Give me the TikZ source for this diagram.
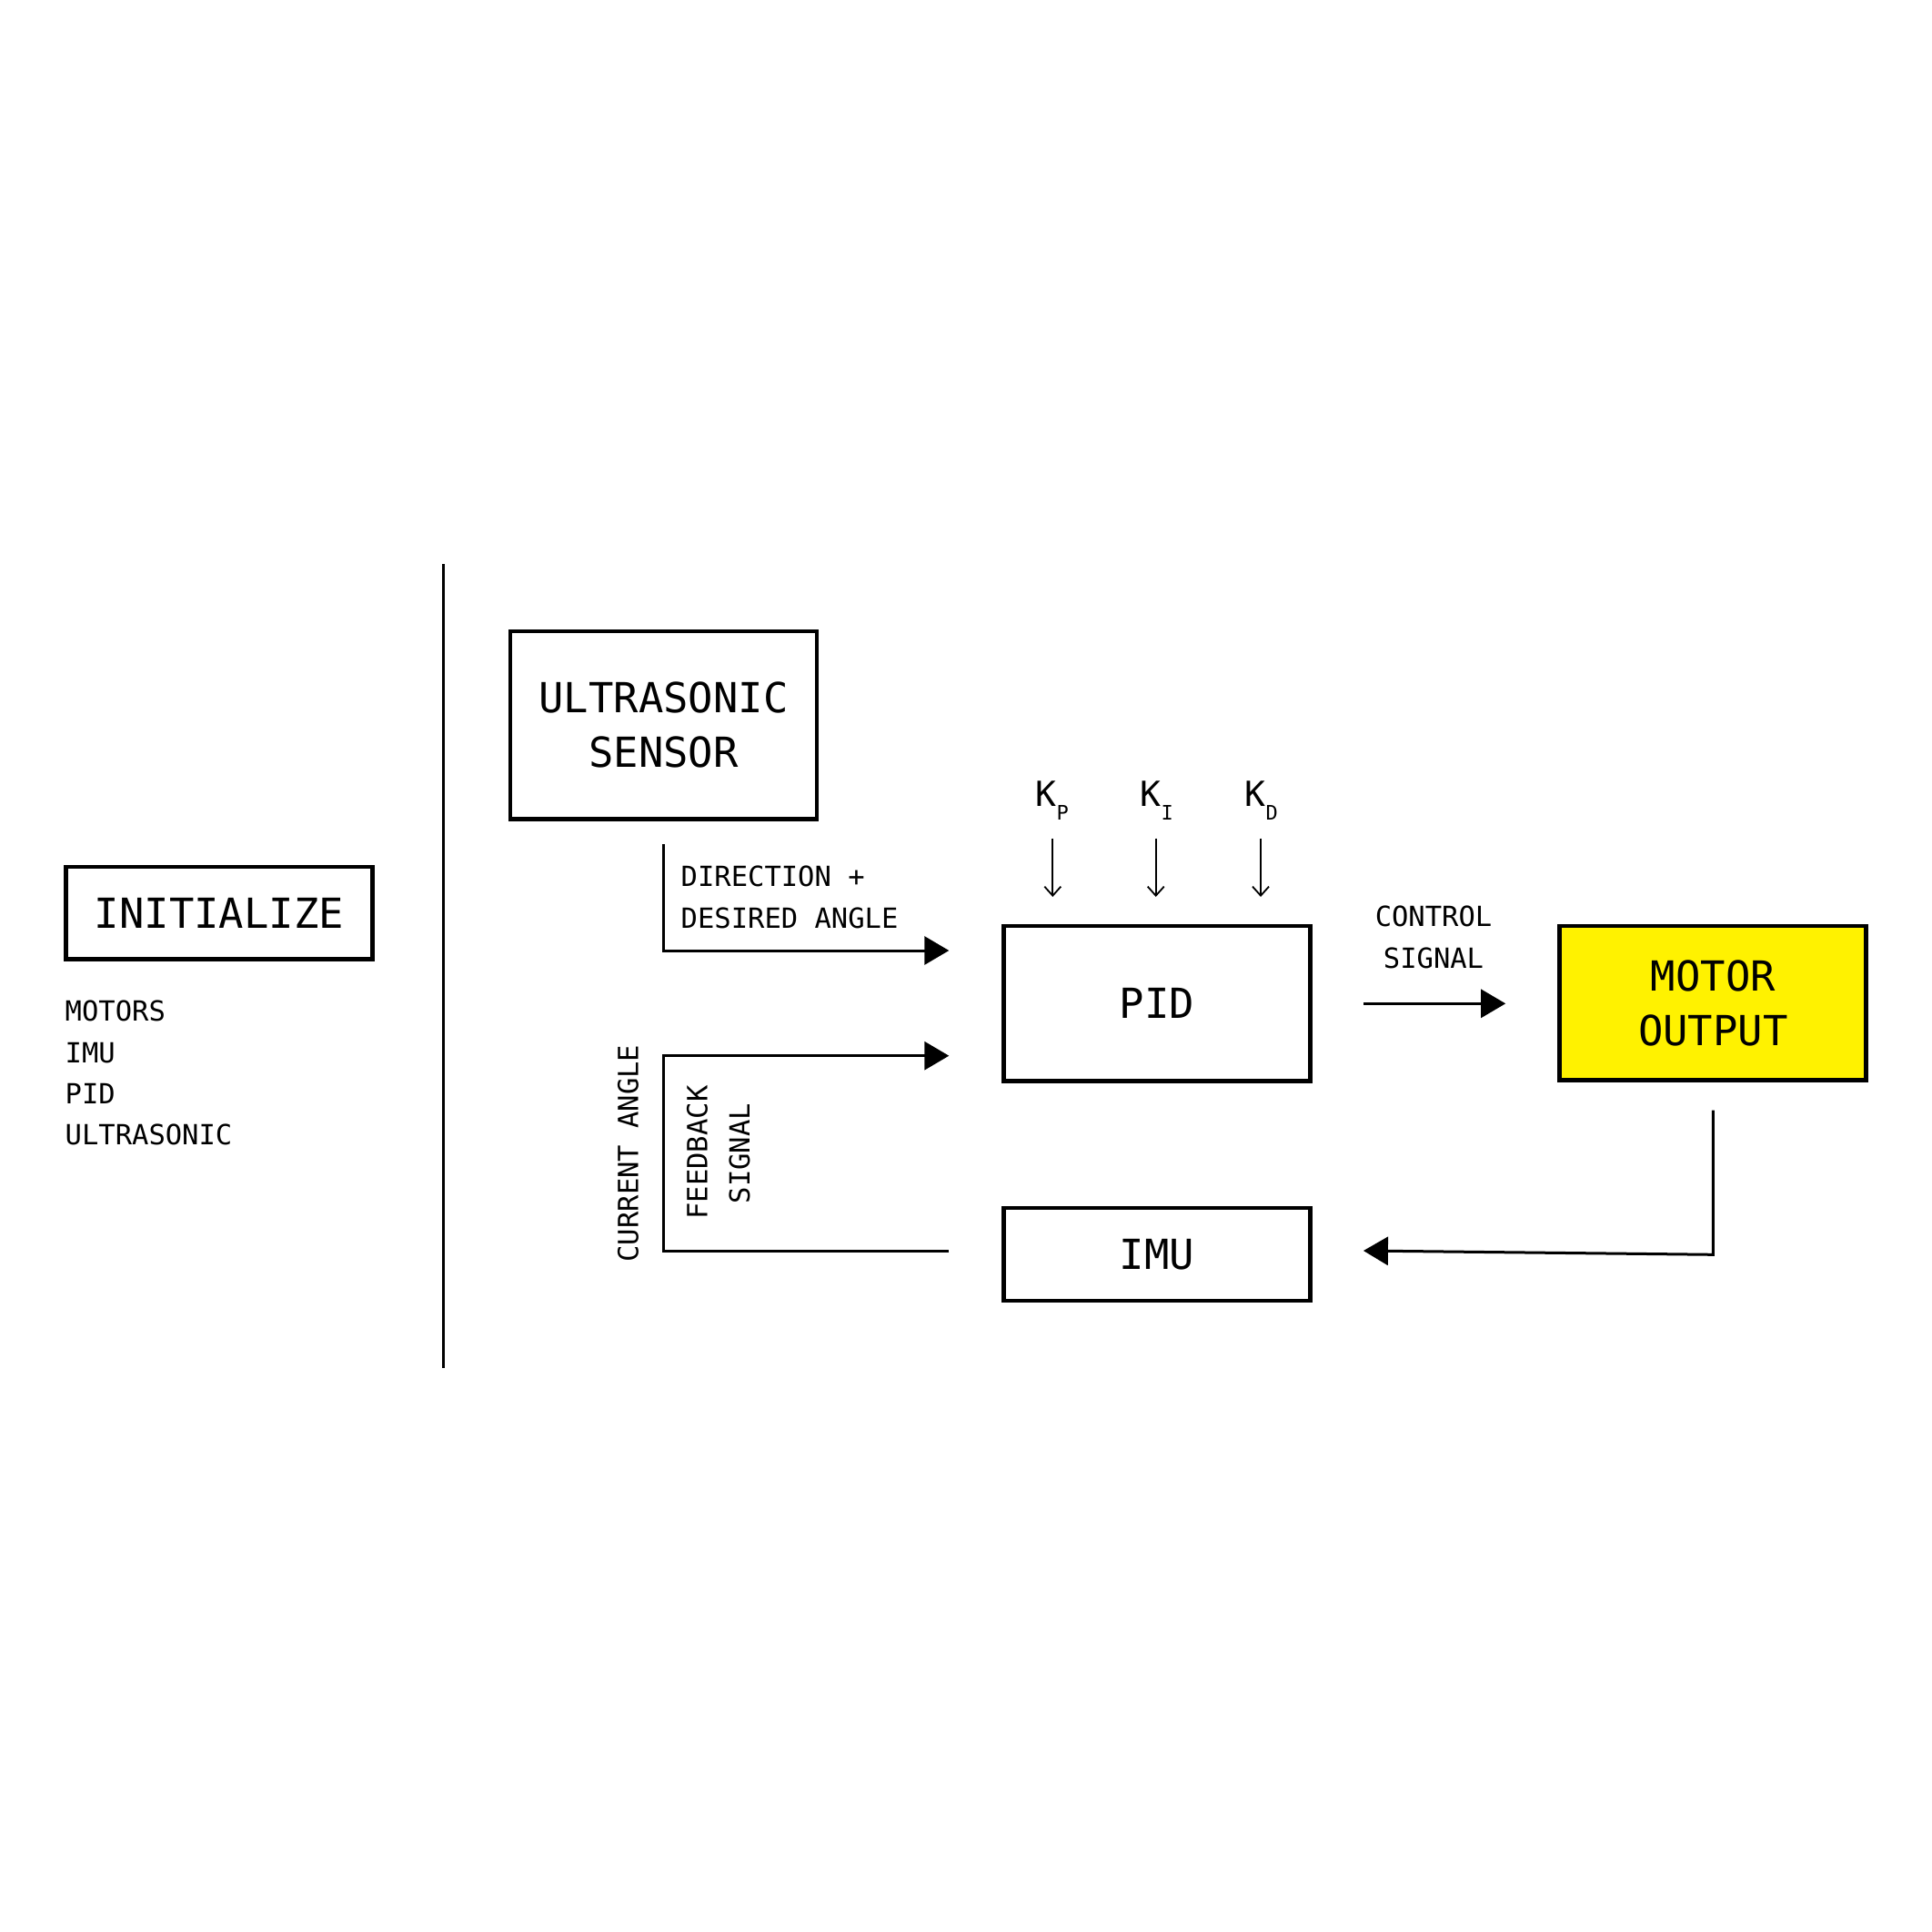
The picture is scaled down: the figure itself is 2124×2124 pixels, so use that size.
\documentclass[tikz,border=0pt]{standalone}
\usepackage{fontspec}
\setmainfont{DejaVu Sans Mono}
\usetikzlibrary{arrows.meta}
\definecolor{motoryellow}{RGB}{255,242,0}
\newcommand\diagbig{\fontsize{45.5}{60}\selectfont}
\newcommand\diagsmall{\fontsize{30.5}{46}\selectfont}
\newcommand\diagK[1]{{\fontsize{38}{38}\selectfont K\raisebox{-15.7pt}{\fontsize{22}{22}\selectfont #1}}}
\begin{document}
\begin{tikzpicture}[x=1pt,y=-1pt,
  box/.style={draw, line width=4.8pt, inner sep=0pt, minimum width=337pt, align=center, font=\diagbig},
  lbl/.style={inner sep=0pt, font=\diagsmall},
  conn/.style={line width=3pt},
  tri/.style={-{Triangle[length=27pt,width=31pt]}},
  karrow/.style={line width=1.8pt, -{Straight Barb[length=10pt,width=18pt]}}
]
\useasboundingbox (0,0) rectangle (2124,2124);

% left column
\node[box, minimum height=101.7pt] (init) at (240.9,1003.9) {INITIALIZE};
\node[lbl, anchor=base west] (i1) at (71.5,1122) {MOTORS};
\node[lbl, anchor=base west] (i2) at (71.5,1168) {IMU};
\node[lbl, anchor=base west] (i3) at (71.5,1213.5) {PID};
\node[lbl, anchor=base west] (i4) at (71.5,1258) {ULTRASONIC};

% divider
\coordinate (dtop) at (487.7,620);
\coordinate (dbot) at (487.7,1504);
\draw[line width=3.3pt] (dtop) -- (dbot);

% boxes
\node[box, minimum height=206.3pt] (us) at (729.5,797.2) {ULTRASONIC\\SENSOR};
\node[box, minimum height=170.3pt] (pid) at (1271.7,1103.2) {PID};
\node[box, minimum height=102pt] (imu) at (1271.7,1379) {IMU};
\node[box, fill=motoryellow, minimum height=169.7pt] (motor) at (1883.3,1102.9) {MOTOR\\OUTPUT};

% direction connector
\coordinate (d0) at (729.3,928);
\coordinate (d1) at (1043.3,1045);
\draw[conn, tri] (d0) |- (d1);
\node[lbl, anchor=base west] (dir1) at (748.5,974) {DIRECTION +};
\node[lbl, anchor=base west] (dir2) at (748.5,1020) {DESIRED ANGLE};

% feedback connector
\coordinate (f0) at (1043.3,1375);
\coordinate (f1) at (1043.3,1160.7);
\draw[conn, tri] (f0) -- (729.3,1375) -- (729.3,1160.7) -- (f1);
\node[lbl, rotate=90, anchor=base] (cur) at (701.7,1268) {CURRENT ANGLE};
\node[lbl, rotate=90, anchor=base] (fb1) at (777.7,1267) {FEEDBACK};
\node[lbl, rotate=90, anchor=base] (fb2) at (824,1268) {SIGNAL};

% gains
\node[inner sep=0pt, anchor=base west] (kp) at (1138.5,886) {\diagK{P}};
\node[inner sep=0pt, anchor=base west] (ki) at (1253.5,886) {\diagK{I}};
\node[inner sep=0pt, anchor=base west] (kd) at (1368.5,886) {\diagK{D}};
\coordinate (kp0) at (1157.3,921.7); \coordinate (kp1) at (1157.3,986);
\coordinate (ki0) at (1270.7,921.7); \coordinate (ki1) at (1270.7,986);
\coordinate (kd0) at (1386,921.7);   \coordinate (kd1) at (1386,986);
\draw[karrow] (kp0) -- (kp1);
\draw[karrow] (ki0) -- (ki1);
\draw[karrow] (kd0) -- (kd1);

% control signal
\node[lbl, anchor=base] (ctl1) at (1576,1018.3) {CONTROL};
\node[lbl, anchor=base] (ctl2) at (1576,1064) {SIGNAL};
\coordinate (c0) at (1498.9,1103.3);
\coordinate (c1) at (1655.2,1103.3);
\draw[conn, tri] (c0) -- (c1);

% motor feedback
\coordinate (m0) at (1883.3,1220.7);
\coordinate (m1) at (1498.9,1375);
\draw[conn, tri] (m0) -- (1883.3,1379.3) -- (m1);
\end{tikzpicture}
\end{document}
